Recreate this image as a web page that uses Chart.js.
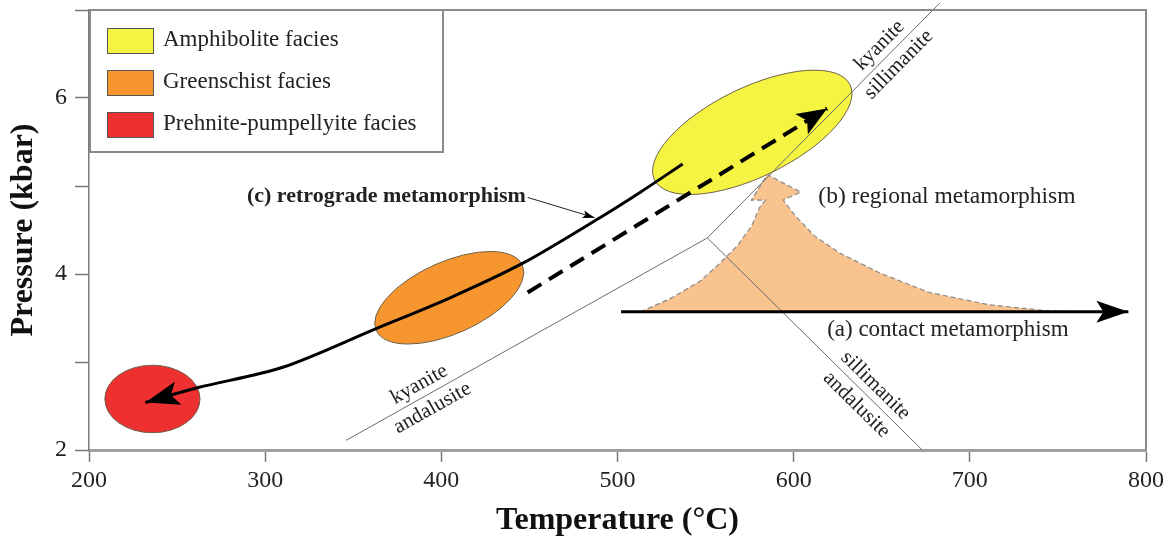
<!DOCTYPE html>
<html>
<head>
<meta charset="utf-8">
<script src="https://cdn.jsdelivr.net/npm/chart.js@4.4.0/dist/chart.umd.min.js"></script>
<style>
  html, body { margin: 0; padding: 0; background: #fff; }
  #wrap { width: 1168px; height: 540px; }
</style>
</head>
<body>
<div id="wrap"><canvas id="chart" width="1168" height="540"></canvas></div>
<script>
const SERIF = '"Liberation Serif", "Times New Roman", "DejaVu Serif", serif';

// axes
const tempTicks = [200, 300, 400, 500, 600, 700, 800];
const pressureTicks = [2, 3, 4, 5, 6, 7];
const pressureLabels = ['2', '', '4', '', '6', ''];

// facies fields: ellipse given by the two ends of its long axis (T, P) and width ratio
const faciesNames = ['Amphibolite facies', 'Greenschist facies', 'Prehnite-pumpellyite facies'];
const faciesColors = ['#f6f443', '#f7962f', '#ee3030'];
const faciesT1 = [521, 363, 209];
const faciesP1 = [5.07, 3.36, 2.58];
const faciesT2 = [632, 446, 263];
const faciesP2 = [6.15, 4.10, 2.58];
const faciesRatio = [0.41, 0.45, 0.71];

// Al2SiO5 phase boundaries
const kyAndT = [346, 551];
const kyAndP = [2.11, 4.41];
const kySillT = [551, 683];
const kySillP = [4.41, 7.08];
const sillAndT = [551, 673];
const sillAndP = [4.41, 2.0];

// (c) retrograde path, amphibolite -> prehnite-pumpellyite
const retroT = [537, 513, 490, 446, 405, 363, 310, 262, 232];
const retroP = [5.25, 4.93, 4.64, 4.12, 3.73, 3.38, 2.94, 2.71, 2.54];

// (b) prograde regional path
const progT = [449, 619];
const progP = [3.79, 5.88];

// (a) contact metamorphism
const contactT = [502, 790];
const contactP = [3.57, 3.57];

// heated zone around the contact path
const zoneT = [513, 530, 547, 558, 568, 576, 581, 584, 576, 585, 604, 594, 601, 612, 626, 649, 677, 711, 745, 768];
const zoneP = [3.57, 3.72, 3.92, 4.12, 4.32, 4.54, 4.77, 4.84, 4.84, 5.13, 4.93, 4.84, 4.66, 4.43, 4.24, 4.01, 3.79, 3.65, 3.58, 3.57];

// pointer from the retrograde label to its path
const pointerT = [449, 487];
const pointerP = [4.87, 4.64];

const notes = [
  { text: '(c) retrograde metamorphism', T: 448, P: 4.88, align: 'right', weight: 'bold', size: 22 },
  { text: '(b) regional metamorphism', T: 614, P: 4.88, align: 'left', weight: 'normal', size: 23.5 },
  { text: '(a) contact metamorphism', T: 619, P: 3.36, align: 'left', weight: 'normal', size: 23 },
];

const phaseLabels = [
  { T: kyAndT, P: kyAndP, frac: 0.22, above: 'kyanite', below: 'andalusite' },
  { T: kySillT, P: kySillP, frac: 0.78, above: 'kyanite', below: 'sillimanite' },
  { T: sillAndT, P: sillAndP, frac: 0.74, above: 'sillimanite', below: 'andalusite' },
];

const pts = (xs, ys) => xs.map((v, i) => ({ x: v, y: ys[i] }));

function drawHead(ctx, tx, ty, fx, fy, len, half) {
  const ang = Math.atan2(ty - fy, tx - fx);
  ctx.save();
  ctx.translate(tx, ty);
  ctx.rotate(ang);
  ctx.beginPath();
  ctx.moveTo(0, 0);
  ctx.lineTo(-len, -half);
  ctx.lineTo(-len * 0.78, 0);
  ctx.lineTo(-len, half);
  ctx.closePath();
  ctx.fillStyle = '#000';
  ctx.fill();
  ctx.restore();
}

const faciesPlugin = {
  id: 'facies',
  beforeDatasetsDraw(chart) {
    const { ctx, scales: { x, y } } = chart;
    faciesNames.forEach((name, i) => {
      const x1 = x.getPixelForValue(faciesT1[i]), y1 = y.getPixelForValue(faciesP1[i]);
      const x2 = x.getPixelForValue(faciesT2[i]), y2 = y.getPixelForValue(faciesP2[i]);
      const a = Math.hypot(x2 - x1, y2 - y1) / 2;
      ctx.save();
      ctx.beginPath();
      ctx.ellipse((x1 + x2) / 2, (y1 + y2) / 2, a, a * faciesRatio[i], Math.atan2(y2 - y1, x2 - x1), 0, Math.PI * 2);
      ctx.fillStyle = faciesColors[i];
      ctx.fill();
      ctx.strokeStyle = '#6e6048';
      ctx.lineWidth = 1;
      ctx.stroke();
      ctx.restore();
    });
  }
};

const overlayPlugin = {
  id: 'overlay',
  afterDatasetsDraw(chart) {
    const { ctx, scales: { x, y } } = chart;

    // arrow heads
    chart.data.datasets.forEach((ds, i) => {
      if (!ds.head) return;
      const pts = chart.getDatasetMeta(i).data;
      const a = pts[pts.length - 1], b = pts[pts.length - 2];
      drawHead(ctx, a.x, a.y, b.x, b.y, ds.head[0], ds.head[1]);
    });

    // mineral names along the boundaries
    ctx.save();
    ctx.fillStyle = '#222';
    ctx.font = `21px ${SERIF}`;
    ctx.textAlign = 'center';
    ctx.textBaseline = 'middle';
    phaseLabels.forEach(l => {
      const x0 = x.getPixelForValue(l.T[0]), y0 = y.getPixelForValue(l.P[0]);
      const x1 = x.getPixelForValue(l.T[1]), y1 = y.getPixelForValue(l.P[1]);
      const ang = Math.atan2(y1 - y0, x1 - x0);
      ctx.save();
      ctx.translate(x0 + (x1 - x0) * l.frac, y0 + (y1 - y0) * l.frac);
      ctx.rotate(ang);
      ctx.fillText(l.above, 0, -13);
      ctx.fillText(l.below, 0, 14);
      ctx.restore();
    });

    // path notes
    ctx.textBaseline = 'middle';
    notes.forEach(n => {
      ctx.font = `${n.weight} ${n.size}px ${SERIF}`;
      ctx.textAlign = n.align;
      ctx.fillText(n.text, x.getPixelForValue(n.T), y.getPixelForValue(n.P));
    });
    ctx.restore();
  },
  afterDraw(chart) {
    const { ctx, chartArea: ca } = chart;
    ctx.save();
    // top and right frame
    ctx.strokeStyle = '#8a8a8a';
    ctx.lineWidth = 2;
    ctx.beginPath();
    ctx.moveTo(ca.left, ca.top);
    ctx.lineTo(ca.right, ca.top);
    ctx.lineTo(ca.right, ca.bottom);
    ctx.stroke();

    // legend box
    const bx = ca.left + 1, by = ca.top, bw = 353, bh = 142;
    ctx.fillStyle = '#fff';
    ctx.fillRect(bx, by, bw, bh);
    ctx.strokeRect(bx, by, bw, bh);
    ctx.font = `23px ${SERIF}`;
    ctx.textBaseline = 'middle';
    ctx.textAlign = 'left';
    faciesNames.forEach((name, i) => {
      const yy = by + 18 + i * 42;
      ctx.fillStyle = faciesColors[i];
      ctx.fillRect(bx + 17, yy, 46, 25);
      ctx.strokeStyle = '#555';
      ctx.lineWidth = 1;
      ctx.strokeRect(bx + 17.5, yy + 0.5, 46, 25);
      ctx.fillStyle = '#222';
      ctx.fillText(name, bx + 73, yy + 12);
    });
    ctx.restore();
  }
};

const thin = { showLine: true, pointRadius: 0, borderColor: '#6a6a6a', borderWidth: 1, fill: false };

new Chart(document.getElementById('chart'), {
  type: 'scatter',
  plugins: [faciesPlugin, overlayPlugin],
  data: {
    datasets: [
      { data: pts(pointerT, pointerP), showLine: true, pointRadius: 0, borderColor: '#222', borderWidth: 1, head: [12, 4] },
      { data: pts(retroT, retroP), showLine: true, pointRadius: 0, borderColor: '#000', borderWidth: 3, tension: 0.3, head: [34, 12] },
      { data: pts(progT, progP), showLine: true, pointRadius: 0, borderColor: '#000', borderWidth: 4, borderDash: [16, 9], head: [30, 12] },
      { data: pts(contactT, contactP), showLine: true, pointRadius: 0, borderColor: '#000', borderWidth: 3, head: [32, 11] },
      { ...thin, data: pts(kyAndT, kyAndP) },
      { ...thin, data: pts(kySillT, kySillP), clip: false },
      { ...thin, data: pts(sillAndT, sillAndP) },
      {
        data: pts(zoneT, zoneP), showLine: true, pointRadius: 0, tension: 0,
        borderColor: '#8a8a8a', borderWidth: 1.2, borderDash: [5, 3],
        backgroundColor: '#f9c38f', fill: { value: contactP[0] }
      },
    ]
  },
  options: {
    responsive: false,
    animation: false,
    devicePixelRatio: 1,
    layout: { padding: { top: 10, right: 22, left: 0, bottom: 0 } },
    plugins: { legend: { display: false }, tooltip: { enabled: false } },
    scales: {
      x: {
        type: 'linear', min: 200, max: 800,
        afterBuildTicks: s => { s.ticks = tempTicks.map(v => ({ value: v })); },
        afterFit: s => { s.height = 90; s.paddingLeft = 0; s.paddingRight = 0; },
        grid: { drawOnChartArea: false, drawTicks: true, tickLength: 12, tickColor: '#777', tickWidth: 1.5 },
        border: { display: true, color: '#a0a0a0', width: 3 },
        ticks: { color: '#222', font: { family: SERIF, size: 24 }, padding: 4, maxRotation: 0, autoSkip: false },
        title: {
          display: true, text: 'Temperature (°C)', color: '#111',
          font: { family: SERIF, size: 32, weight: 'bold', lineHeight: 1.2 },
          padding: { top: 0, bottom: 0 }
        }
      },
      y: {
        type: 'linear', min: 2, max: 7,
        afterBuildTicks: s => { s.ticks = pressureTicks.map(v => ({ value: v })); },
        afterFit: s => { s.width = 89; s.paddingTop = 0; s.paddingBottom = 0; },
        grid: { drawOnChartArea: false, drawTicks: true, tickLength: 14, tickColor: '#777', tickWidth: 1.5 },
        border: { display: true, color: '#7a7a7a', width: 1.5 },
        ticks: { color: '#222', font: { family: SERIF, size: 24 }, padding: 8, autoSkip: false, callback: (v, i) => pressureLabels[i] },
        title: {
          display: true, text: 'Pressure (kbar)', color: '#111',
          font: { family: SERIF, size: 32, weight: 'bold', lineHeight: 1.2 },
          padding: { top: 5, bottom: 0 }
        }
      }
    }
  }
});
</script>
</body>
</html>
